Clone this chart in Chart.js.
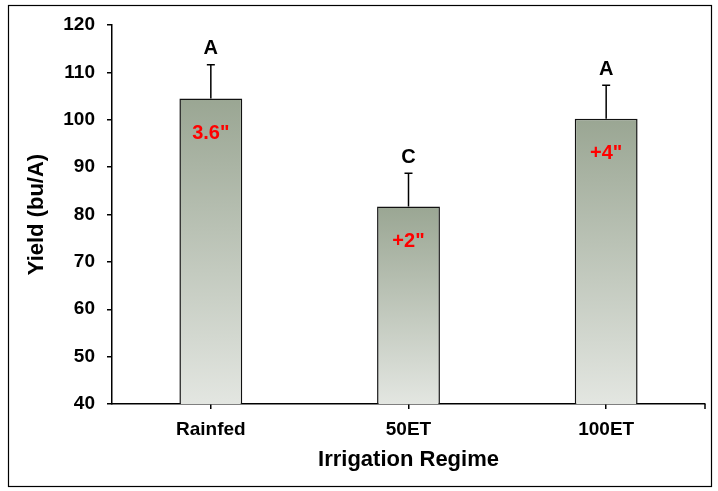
<!DOCTYPE html>
<html>
<head>
<meta charset="utf-8">
<script src="https://cdn.jsdelivr.net/npm/chart.js@4"></script>
<style>
  body { margin: 0; background: #fff; }
</style>
</head>
<body>
<canvas id="yieldChart" width="718" height="491"></canvas>
<script>
const categories = ["Rainfed", "50ET", "100ET"];
const yieldMeans = [104.5, 81.7, 100.2];
const yieldErrors = [7.1, 7.0, 7.1];
const groupLetters = ["A", "C", "A"];
const waterLabels = ['3.6"', '+2"', '+4"'];
const yMin = 40;
const yMax = 120;
const yStep = 10;

const FONT = "'Liberation Sans', Arial, sans-serif";

// error bars, significance letters and the red water labels
const annotate = {
  id: "annotate",
  afterDatasetsDraw(chart) {
    const { ctx } = chart;
    const y = chart.scales.y;
    const bars = chart.getDatasetMeta(0).data;
    ctx.save();
    bars.forEach((bar, i) => {
      const top = y.getPixelForValue(yieldMeans[i] + yieldErrors[i]);
      ctx.strokeStyle = "#000";
      ctx.lineWidth = 1.5;
      ctx.beginPath();
      ctx.moveTo(bar.x, bar.y);
      ctx.lineTo(bar.x, top);
      ctx.moveTo(bar.x - 4, top);
      ctx.lineTo(bar.x + 4, top);
      ctx.stroke();

      ctx.textAlign = "center";
      ctx.textBaseline = "middle";
      ctx.fillStyle = "#000";
      ctx.font = "bold 20px " + FONT;
      ctx.fillText(groupLetters[i], bar.x, top - 16);

      ctx.fillStyle = "#ff0000";
      ctx.fillText(waterLabels[i], bar.x, bar.y + 35);
    });
    ctx.restore();
  },
  afterDraw(chart) {
    const { ctx, chartArea } = chart;
    ctx.save();
    ctx.strokeStyle = "#000";
    ctx.lineWidth = 1.5;
    // end tick on the right of the x axis
    ctx.beginPath();
    ctx.moveTo(chartArea.right, chartArea.bottom);
    ctx.lineTo(chartArea.right, chartArea.bottom + 5);
    ctx.stroke();
    // outer frame
    ctx.lineWidth = 1.2;
    ctx.strokeRect(8.5, 5.5, 703, 481);
    ctx.restore();
  }
};

function barFill(context) {
  const chart = context.chart;
  if (!chart.chartArea || context.type !== "data") return "#b4bcae";
  const y = chart.scales.y;
  const top = y.getPixelForValue(context.raw);
  const bottom = y.getPixelForValue(yMin);
  const g = chart.ctx.createLinearGradient(0, top, 0, bottom);
  g.addColorStop(0, "#9aa693");
  g.addColorStop(1, "#e3e6e1");
  return g;
}

new Chart(document.getElementById("yieldChart"), {
  type: "bar",
  data: {
    labels: categories,
    datasets: [
      {
        label: "Yield",
        data: yieldMeans,
        backgroundColor: barFill,
        borderColor: "#111",
        borderWidth: 1.5,
        categoryPercentage: 1,
        barPercentage: 0.318,
      },
    ],
  },
  options: {
    responsive: false,
    animation: false,
    devicePixelRatio: 1,
    layout: { padding: { top: 25, right: 13, left: 0, bottom: 0 } },
    plugins: {
      legend: { display: false },
      tooltip: { enabled: false },
    },
    scales: {
      x: {
        afterFit: (scale) => { scale.height = 87; },
        grid: {
          offset: false,
          drawOnChartArea: false,
          drawTicks: true,
          tickLength: 5,
          color: "#000",
          lineWidth: 1.5,
        },
        border: { display: true, color: "#000", width: 1.5 },
        ticks: {
          color: "#000",
          padding: 9,
          font: { family: FONT, size: 19, weight: "bold" },
        },
        title: {
          display: true,
          text: "Irrigation Regime",
          color: "#000",
          padding: { top: 0, bottom: 18 },
          font: { family: FONT, size: 22, weight: "bold" },
        },
      },
      y: {
        min: yMin,
        max: yMax,
        afterFit: (scale) => { scale.width = 112; },
        grid: {
          drawOnChartArea: false,
          drawTicks: true,
          tickLength: 5,
          color: "#000",
          lineWidth: 1.5,
        },
        border: { display: true, color: "#000", width: 1.5 },
        ticks: {
          stepSize: yStep,
          color: "#000",
          padding: 12,
          font: { family: FONT, size: 19, weight: "bold" },
        },
        title: {
          display: true,
          text: "Yield (bu/A)",
          color: "#000",
          padding: { top: 24, bottom: 0 },
          font: { family: FONT, size: 22, weight: "bold" },
        },
      },
    },
  },
  plugins: [annotate],
});
</script>
</body>
</html>
